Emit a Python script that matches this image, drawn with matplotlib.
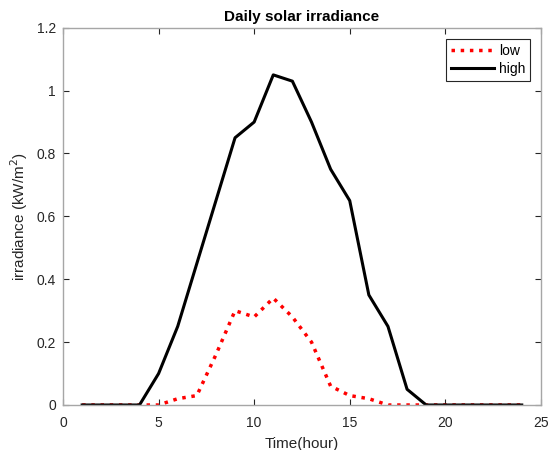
import matplotlib
matplotlib.use("Agg")
import matplotlib.pyplot as plt

hours = list(range(1, 25))
low = [0, 0, 0, 0, 0, 0.02, 0.03, 0.16, 0.30, 0.28, 0.34, 0.28, 0.20, 0.06, 0.03, 0.02,
       0, 0, 0, 0, 0, 0, 0, 0]
high = [0, 0, 0, 0, 0.10, 0.25, 0.45, 0.65, 0.85, 0.90, 1.05, 1.03, 0.90, 0.75, 0.65, 0.35,
        0.25, 0.05, 0, 0, 0, 0, 0, 0]
xticks = [0, 5, 10, 15, 20, 25]
yticks = [0, 0.2, 0.4, 0.6, 0.8, 1.0, 1.2]
yticklabels = ["0", "0.2", "0.4", "0.6", "0.8", "1", "1.2"]

plt.rcParams['font.family'] = ['Liberation Sans', 'DejaVu Sans']
plt.rcParams['font.size'] = 10

fig = plt.figure(figsize=(5.48, 4.5), dpi=100)
ax = fig.add_axes([0.115, 0.1, 0.872, 0.8384])

ax.plot(hours, low, color='red', linestyle=':', linewidth=2.5, label='low')
ax.plot(hours, high, color='black', linestyle='-', linewidth=2.2, label='high')

ax.set_xlim(0, 25)
ax.set_ylim(0, 1.2)
ax.set_xticks(xticks)
ax.set_yticks(yticks)
ax.set_yticklabels(yticklabels)
ax.tick_params(direction='in', length=4, width=0.8, colors='#262626',
               top=True, right=True, labelsize=10)
ax.tick_params(axis='x', pad=8)
ax.tick_params(axis='y', pad=5)
for s in ax.spines.values():
    s.set_color('#a6a6a6')
    s.set_linewidth(1.0)

ax.set_xlabel('Time(hour)', fontsize=11, color='#262626', labelpad=5)
ax.set_ylabel('irradiance (kW/m$^2$)', fontsize=11, color='#262626', labelpad=5)
ax.set_title('Daily solar irradiance', fontsize=11, fontweight='bold', pad=5)

leg = ax.legend(loc='upper right', bbox_to_anchor=(0.978, 0.97), fancybox=False,
                framealpha=1, edgecolor='#262626', fontsize=10, handlelength=3.1,
                handletextpad=0.4, borderpad=0.35, labelspacing=0.3, borderaxespad=0)
leg.get_frame().set_linewidth(0.8)

fig.savefig('out.png', dpi=100)
